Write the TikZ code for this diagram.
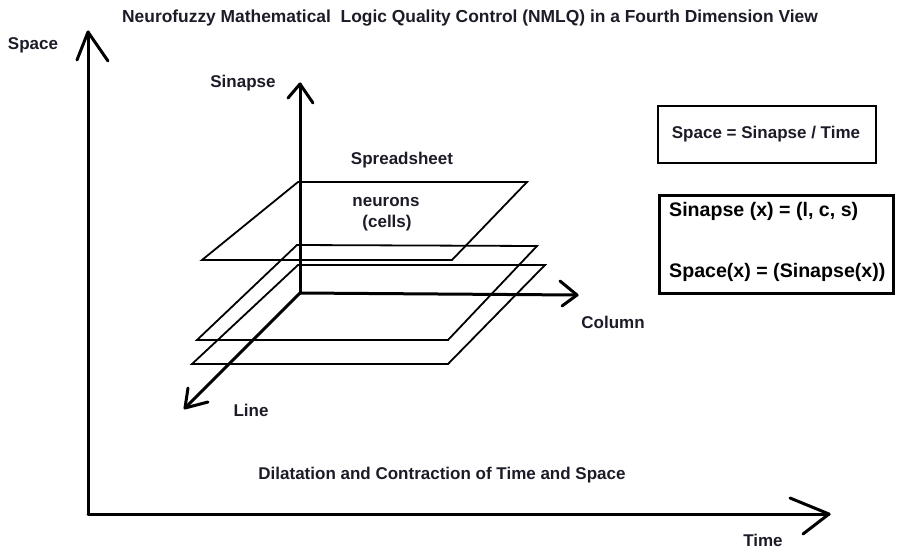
\documentclass[tikz,border=0pt]{standalone}
\usepackage{fontspec}
\setmainfont{Liberation Sans}
\definecolor{ink}{RGB}{28,28,40}
\begin{document}
\begin{tikzpicture}[x=1pt,y=-1pt,
  lbl/.style={font=\bfseries\fontsize{17}{20}\selectfont, text=ink, inner sep=0pt},
  biglbl/.style={font=\bfseries\fontsize{19.6}{24}\selectfont, text=black, inner sep=0pt},
  axis/.style={line width=3pt, line cap=round, line join=round},
  plane/.style={line width=1.8pt, line join=miter},
  boxa/.style={line width=2.4pt},
  boxb/.style={line width=3pt}]
\useasboundingbox (0,0) rectangle (897,549);

% planes
\draw[plane] (298,182) -- (527,182) -- (452,260) -- (202,260) -- cycle;
\draw[plane] (297,245) -- (537,246) -- (448,340) -- (197,340) -- cycle;
\draw[plane] (298,265) -- (545,265) -- (448,364) -- (192,364) -- cycle;

% main axes
\coordinate (O) at (88,514);
\coordinate (spacetip) at (88,32);
\coordinate (timetip) at (829,514);
\draw[axis] (O) -- (spacetip);
\draw[axis] (77,60) -- (spacetip) -- (108,61);
\draw[axis] (O) -- (timetip);
\draw[axis] (790,498) -- (timetip) -- (803,534);

% inner axes
\coordinate (o) at (300,293);
\coordinate (sintip) at (300,84);
\coordinate (coltip) at (577,295);
\coordinate (linetip) at (185,408);
\draw[axis] (o) -- (sintip);
\draw[axis] (288,98) -- (sintip) -- (313,103);
\draw[axis] (o) -- (coltip);
\draw[axis] (560,281) -- (coltip) -- (562,306);
\draw[axis] (o) -- (linetip);
\draw[axis] (188,388) -- (linetip) -- (208,402);

% labels
\node[lbl, font=\bfseries\fontsize{17.4}{20}\selectfont] (title) at (470,18) {Neurofuzzy Mathematical\ \ Logic Quality Control (NMLQ) in a Fourth Dimension View};
\node[lbl] (lspace) at (33,45) {Space};
\node[lbl] (lsin) at (243,83) {Sinapse};
\node[lbl] (lspread) at (402,160) {Spreadsheet};
\node[lbl] (lneu) at (386,202) {neurons};
\node[lbl] (lcells) at (387,223) {(cells)};
\node[lbl] (lcol) at (613,322) {Column};
\node[lbl] (lline) at (251,410) {Line};
\node[lbl] (ltime) at (763,540) {Time};
\node[lbl] (ldil) at (442,475) {Dilatation and Contraction of Time and Space};

% boxes
\draw[boxa] (658,106) rectangle (876,163);
\node[lbl] (eq1) at (766,134) {Space = Sinapse / Time};
\draw[boxb] (659,195) rectangle (893,293);
\node[biglbl, anchor=west] (eq2) at (669,211) {Sinapse (x) = (l, c, s)};
\node[biglbl, anchor=west] (eq3) at (669,272) {Space(x) = (Sinapse(x))};
\end{tikzpicture}
\end{document}
